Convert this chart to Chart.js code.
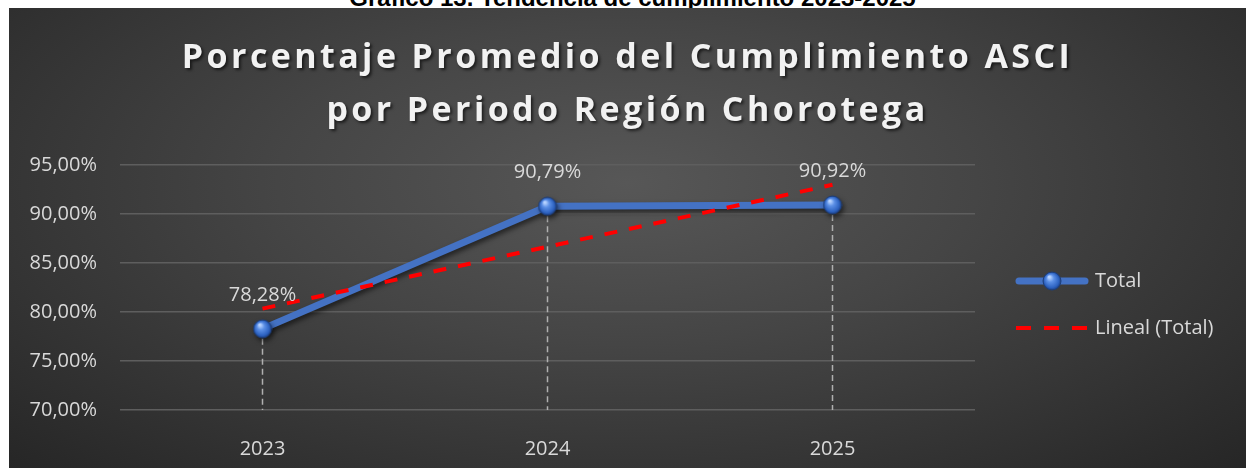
<!DOCTYPE html>
<html>
<head>
<meta charset="utf-8">
<script src="https://cdn.jsdelivr.net/npm/chart.js@4/dist/chart.umd.min.js"></script>
<style>
    html, body { margin: 0; padding: 0; background: #fff; width: 1246px; height: 468px; overflow: hidden; }
    #caption {
        position: absolute; left: 0; top: -14px; width: 1246px; box-sizing: border-box; padding-left: 19px;
        text-align: center; font: bold 24px "Liberation Sans", Arial, sans-serif; line-height: 24px; color: #000;
    }
    #panel {
        position: absolute; left: 9px; top: 8px; width: 1237px; height: 460px;
        background: radial-gradient(ellipse farthest-corner at 50% 38%, #575757 0%, #454545 40%, #262626 100%);
    }
    #title {
        position: absolute; left: 0; top: 21px; width: 100%; text-align: center;
        font: bold 34px "Open Sans", sans-serif; letter-spacing: 3.4px; line-height: 53px;
        color: #f2f2f2; text-shadow: 2px 2px 3px rgba(0, 0, 0, 0.6);
    }
    #chart { position: absolute; left: 0; top: 0; }
</style>
</head>
<body>
<div id="caption">Gráfico 13. Tendencia de cumplimiento 2023-2025</div>
<div id="panel">
    <canvas id="chart" width="1237" height="460"></canvas>
    <div id="title">Porcentaje Promedio del Cumplimiento ASCI<br>por Periodo Región Chorotega</div>
</div>
<script>
const years = ['2023', '2024', '2025'];
const totalValues = [78.28, 90.79, 90.92];
const trendValues = [80.34, 86.66, 92.98];   // linea de tendencia
const seriesLabels = ['Total', 'Lineal (Total)'];
const yMin = 70;
const yMax = 95;
const yStep = 5;

const TEXT = '#d9d9d9';
const BLUE = '#4472c4';
const RED = '#ff0000';
const FONT = '"Open Sans", sans-serif';
const FSIZE = 20;

const fmt = v => v.toFixed(2).replace('.', ',') + '%';

// marcador tipo esfera
function makeSphere(r) {
    const c = document.createElement('canvas');
    c.width = c.height = r * 2 + 2;
    const g = c.getContext('2d');
    const cx = r + 1, cy = r + 1;
    const grad = g.createRadialGradient(cx - r * 0.3, cy - r * 0.45, r * 0.1, cx, cy, r);
    grad.addColorStop(0, '#b9d4ff');
    grad.addColorStop(0.35, '#5b8fe6');
    grad.addColorStop(0.8, '#2d62c0');
    grad.addColorStop(1, '#1b3f85');
    g.beginPath();
    g.arc(cx, cy, r, 0, Math.PI * 2);
    g.fillStyle = grad;
    g.fill();
    g.lineWidth = 1;
    g.strokeStyle = '#1f3f7a';
    g.stroke();
    return c;
}
const sphere = makeSphere(9);

const dropLines = {
    id: 'dropLines',
    beforeDatasetsDraw(chart) {
        const ctx = chart.ctx;
        const meta = chart.getDatasetMeta(0);
        ctx.save();
        ctx.strokeStyle = '#b0b0b0';
        ctx.lineWidth = 1.5;
        ctx.setLineDash([6, 4]);
        meta.data.forEach(pt => {
            ctx.beginPath();
            ctx.moveTo(pt.x, pt.y);
            ctx.lineTo(pt.x, chart.chartArea.bottom);
            ctx.stroke();
        });
        ctx.restore();
    }
};

const lineShadow = {
    id: 'lineShadow',
    beforeDatasetDraw(chart, args) {
        if (args.index !== 0) return;
        const ctx = chart.ctx;
        ctx.save();
        ctx.shadowColor = 'rgba(0,0,0,0.55)';
        ctx.shadowBlur = 5;
        ctx.shadowOffsetX = 2;
        ctx.shadowOffsetY = 3;
    },
    afterDatasetDraw(chart, args) {
        if (args.index !== 0) return;
        chart.ctx.restore();
    }
};

const dataLabels = {
    id: 'dataLabels',
    afterDatasetsDraw(chart) {
        const ctx = chart.ctx;
        const meta = chart.getDatasetMeta(0);
        ctx.save();
        ctx.font = FSIZE + 'px ' + FONT;
        ctx.fillStyle = TEXT;
        ctx.textAlign = 'center';
        ctx.textBaseline = 'middle';
        meta.data.forEach((pt, i) => {
            ctx.fillText(fmt(totalValues[i]), pt.x, pt.y - 34);
        });
        ctx.restore();
    }
};

const sideLegend = {
    id: 'sideLegend',
    afterDraw(chart) {
        const ctx = chart.ctx;
        const x0 = 1007, x1 = 1079, tx = 1086;
        const rows = [273, 320];
        ctx.save();
        // Total
        ctx.strokeStyle = BLUE;
        ctx.lineWidth = 7;
        ctx.lineCap = 'round';
        ctx.beginPath();
        ctx.moveTo(x0 + 3, rows[0]);
        ctx.lineTo(x1 - 3, rows[0]);
        ctx.stroke();
        ctx.drawImage(sphere, (x0 + x1) / 2 - sphere.width / 2, rows[0] - sphere.height / 2);
        // Lineal
        ctx.strokeStyle = RED;
        ctx.lineWidth = 4;
        ctx.lineCap = 'butt';
        ctx.setLineDash([15, 13]);
        ctx.beginPath();
        ctx.moveTo(x0, rows[1]);
        ctx.lineTo(x1, rows[1]);
        ctx.stroke();
        ctx.setLineDash([]);
        ctx.font = FSIZE + 'px ' + FONT;
        ctx.fillStyle = TEXT;
        ctx.textBaseline = 'middle';
        ctx.textAlign = 'left';
        seriesLabels.forEach((lab, i) => ctx.fillText(lab, tx, rows[i]));
        ctx.restore();
    }
};

new Chart(document.getElementById('chart'), {
    type: 'line',
    data: {
        labels: years,
        datasets: [
            {
                label: seriesLabels[0],
                data: totalValues,
                borderColor: BLUE,
                borderWidth: 7,
                pointStyle: sphere,
                pointRadius: 9,
                tension: 0,
                order: 2
            },
            {
                label: seriesLabels[1],
                data: trendValues,
                borderColor: RED,
                borderWidth: 4,
                borderDash: [13, 12],
                pointRadius: 0,
                tension: 0,
                order: 1
            }
        ]
    },
    options: {
        responsive: false,
        animation: false,
        layout: { padding: { left: 0, right: 271, top: 157, bottom: 0 } },
        plugins: {
            legend: { display: false },
            title: { display: false },
            tooltip: { enabled: false }
        },
        scales: {
            x: {
                offset: true,
                grid: { display: false },
                border: { display: false },
                ticks: { color: TEXT, font: { family: FONT, size: FSIZE }, padding: 19 },
                afterFit: s => { s.height = 58; }
            },
            y: {
                min: yMin,
                max: yMax,
                grid: { color: '#5e5e5e', lineWidth: 1.5, drawTicks: false },
                border: { display: false },
                ticks: { stepSize: yStep, color: TEXT, font: { family: FONT, size: FSIZE }, padding: 23, callback: v => fmt(v) },
                afterFit: s => { s.width = 111; }
            }
        }
    },
    plugins: [dropLines, lineShadow, dataLabels, sideLegend]
});
</script>
</body>
</html>
